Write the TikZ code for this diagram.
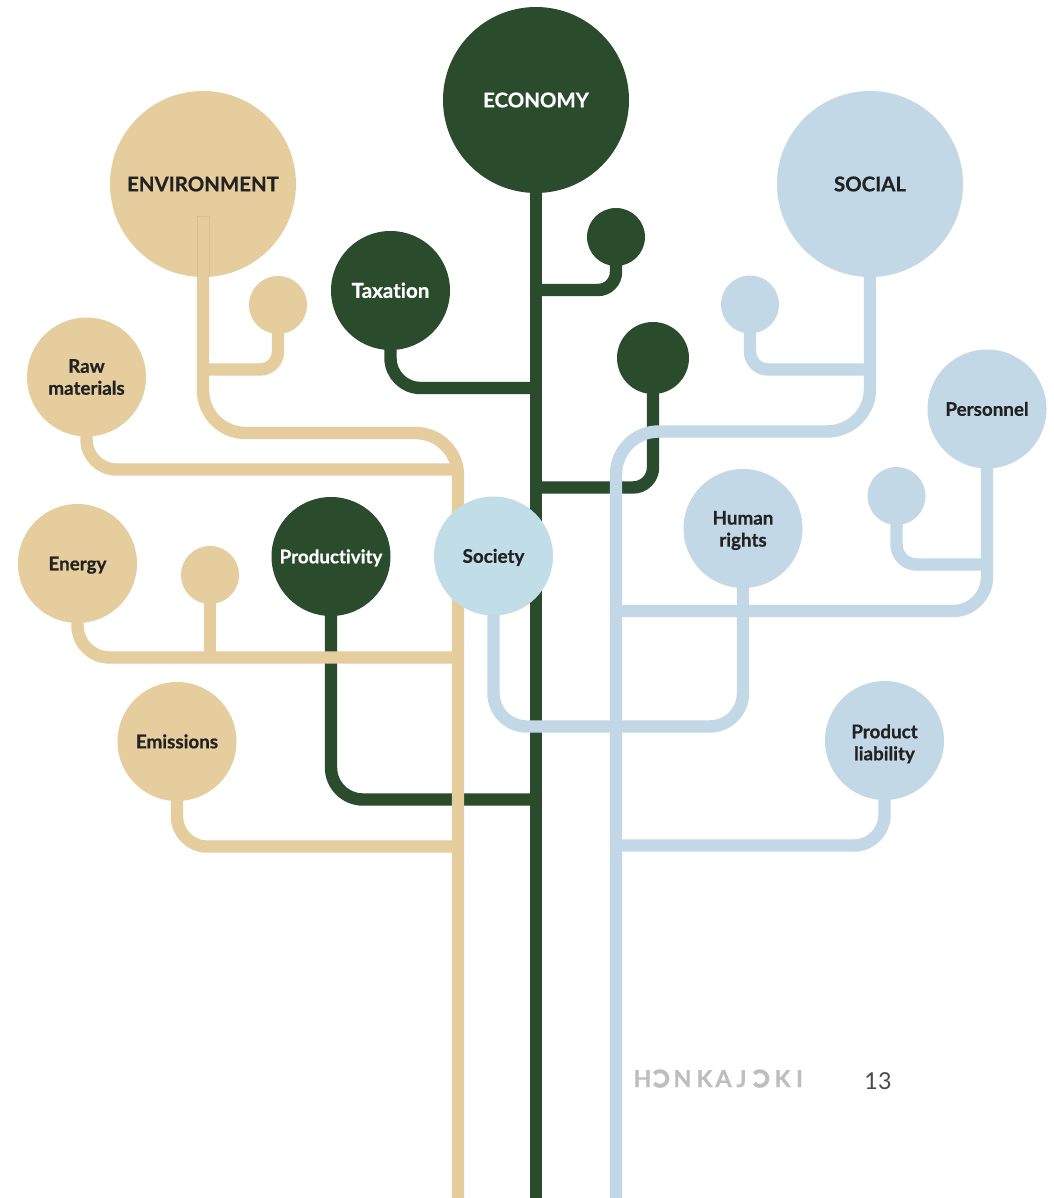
\documentclass[tikz,border=0pt]{standalone}
\usepackage{fontspec}
\setmainfont{Lato}[Ligatures=NoCommon, BoldFeatures={FakeBold=0.6}]
\definecolor{tgreen}{HTML}{2A4B2C}
\definecolor{tbeige}{HTML}{E6CD9E}
\definecolor{tblue}{HTML}{C3D8E6}
\definecolor{tsoc}{HTML}{C0DDE8}
\definecolor{tdark}{HTML}{222222}
\definecolor{tedge}{HTML}{D9C090}
\definecolor{logogray}{HTML}{BEBEBE}
\definecolor{numgray}{HTML}{4A4A4A}
\begin{document}
\begin{tikzpicture}[x=0.75pt,y=-0.75pt,
  circ/.style={circle, inner sep=0pt, outer sep=0pt},
  bigc/.style={circ, minimum size=139.5pt, font=\bfseries\fontsize{15.3}{18}\selectfont},
  medc/.style={circ, minimum size=89.25pt, font=\bfseries\fontsize{14.1}{16.5}\selectfont, align=center},
  grnc/.style={circ, minimum size=54pt},
  smlc/.style={circ, minimum size=43.5pt},
  one/.style={text height=10.2pt, text depth=0pt},
  gfill/.style={fill=tgreen, text=white},
  bfill/.style={fill=tbeige, text=tdark},
  lfill/.style={fill=tblue, text=tdark},
  sfill/.style={fill=tsoc, text=tdark},
  gline/.style={draw=tgreen, line width=9.3pt},
  bline/.style={draw=tbeige, line width=9.3pt},
  lline/.style={draw=tblue, line width=9.3pt},
  logo/.style={font=\bfseries\fontsize{17.5}{17}\selectfont, text=logogray, anchor=base, inner sep=0pt},
  logoarc/.style={draw=logogray, line width=2.9pt}
]
\useasboundingbox[fill=white] (0,0) rectangle (1053,1198);

% trunk / junction coordinates
\coordinate (gbot) at (536,1198);
\coordinate (g1) at (536,290);
\coordinate (g2) at (536,388);
\coordinate (g3) at (536,487.5);
\coordinate (g4) at (536,799.5);
\coordinate (bturn) at (458,433);
\coordinate (bbot) at (458,1198);
\coordinate (b1) at (203,369.5);
\coordinate (b2) at (458,469.5);
\coordinate (b3) at (458,657.5);
\coordinate (b4) at (458,846.5);
\coordinate (lturn) at (616,431.5);
\coordinate (lbot) at (616,1198);
\coordinate (l1) at (870,369.5);
\coordinate (l2) at (616,611);
\coordinate (l3) at (987,564.5);
\coordinate (l4) at (620,726.5);
\coordinate (l5) at (616,845.5);

% ---- nodes (invisible placeholders for geometry) ----
\path
  (536,100) node[bigc] (econ) {}
  (203,184) node[bigc] (env) {}
  (870,184) node[bigc] (soc) {}
  (616,237) node[smlc] (gs1) {}
  (390.5,290.5) node[medc] (tax) {}
  (653,358) node[grnc] (gm) {}
  (331,556.5) node[medc] (prod) {}
  (278,305) node[smlc] (bs1) {}
  (86.5,377) node[medc] (raw) {}
  (77.5,563.5) node[medc] (energy) {}
  (210,575) node[smlc] (bs2) {}
  (177,741.5) node[medc] (emis) {}
  (750,304.5) node[smlc] (ls1) {}
  (987,409) node[medc] (pers) {}
  (896.5,496) node[smlc] (ls2) {}
  (743,528.5) node[medc] (hr) {}
  (493.5,556) node[medc] (society) {}
  (884.5,740.5) node[medc] (pl) {};

% ---- green lines ----
\draw[gline] (econ.center) -- (gbot);
\draw[gline, rounded corners=13.5pt] (gs1.center) |- (g1);
\draw[gline, rounded corners=22.5pt] (tax.center) |- (g2);
\draw[gline, rounded corners=15pt] (gm.center) |- (g3);
\draw[gline, rounded corners=24pt] (prod.center) |- (g4);

% ---- beige lines ----
\draw[bline, rounded corners=32pt] (env.center) |- (bturn) -- (bbot);
\draw[bline, rounded corners=13.5pt] (bs1.center) |- (b1);
\draw[bline, rounded corners=22.5pt] (raw.center) |- (b2);
\draw[bline, rounded corners=24pt] (energy.center) |- (b3);
\draw[bline] (bs2.center) -- (bs2.center |- b3);
\draw[bline, rounded corners=22.5pt] (emis.center) |- (b4);

% ---- blue lines ----
\draw[lline, rounded corners=32pt] (soc.center) |- (lturn) -- (lbot);
\draw[lline, rounded corners=13.5pt] (ls1.center) |- (l1);
\draw[lline, rounded corners=25.5pt] (pers.center) |- (l2);
\draw[lline, rounded corners=15pt] (ls2.center) |- (l3);
\draw[lline, rounded corners=25pt] (hr.center) |- (l4) -| (society.center);
\draw[lline, rounded corners=23pt] (pl.center) |- (l5);

% ---- circles with labels ----
\node[bigc, gfill] at (econ) {ECONOMY};
\node[bigc, bfill] at (env) {ENVIRONMENT};
\node[bigc, lfill] at (soc) {SOCIAL};
\node[smlc, gfill] at (gs1) {};
\node[medc, gfill, one, text height=11pt, font=\bfseries\fontsize{15.4}{18}\selectfont] at (tax) {Taxation};
\node[grnc, gfill] at (gm) {};
\node[medc, gfill, one] at (prod) {Productivity};
\node[smlc, bfill] at (bs1) {};
\node[medc, bfill] at (raw) {Raw\\materials};
\node[medc, bfill, one] at (energy) {Energy};
\node[smlc, bfill] at (bs2) {};
\node[medc, bfill, one] at (emis) {Emissions};
\node[smlc, lfill] at (ls1) {};
\node[medc, lfill, one] at (pers) {Personnel};
\node[smlc, lfill] at (ls2) {};
\node[medc, lfill] at (hr) {};
\node[medc, lfill] at (pl) {};
\node[medc, sfill, one] at (society) {Society};
\node[font=\bfseries\fontsize{14.1}{16.5}\selectfont, align=center, text=tdark, inner sep=0pt, yshift=-1.5pt] (hrtxt) at (hr) {Human\\rights};
\node[font=\bfseries\fontsize{14.1}{16.5}\selectfont, align=center, text=tdark, inner sep=0pt, yshift=-2.5pt] (pltxt) at (pl) {Product\\liability};

% faint edge of the environment stem inside its circle
\draw[tedge, line width=0.4pt] (197.5,277) -- (197.5,216) -- (209.5,216) -- (209.5,277);

% ---- logo ----
\node[logo] (lgH) at (642.5,1087) {H};
\coordinate (lgO1) at (660,1078.5);
\node[logo] (lgN) at (682.5,1087) {N};
\node[logo] (lgK1) at (704.5,1087) {K};
\node[logo] (lgA) at (723.5,1087) {A};
\node[logo] (lgJ) at (741.5,1087) {J};
\coordinate (lgO2) at (760,1078.5);
\node[logo] (lgK2) at (782.5,1087) {K};
\node[logo] (lgI) at (799.5,1087) {I};
\draw[logoarc] (lgO1) ++(140:7.4) arc[start angle=140, end angle=-140, radius=7.4];
\draw[logoarc] (lgO2) ++(140:7.4) arc[start angle=140, end angle=-140, radius=7.4];
\node[font=\fontsize{17.5}{18}\selectfont, text=numgray, anchor=base, inner sep=0pt] (page) at (878,1089) {13};
\end{tikzpicture}
\end{document}
